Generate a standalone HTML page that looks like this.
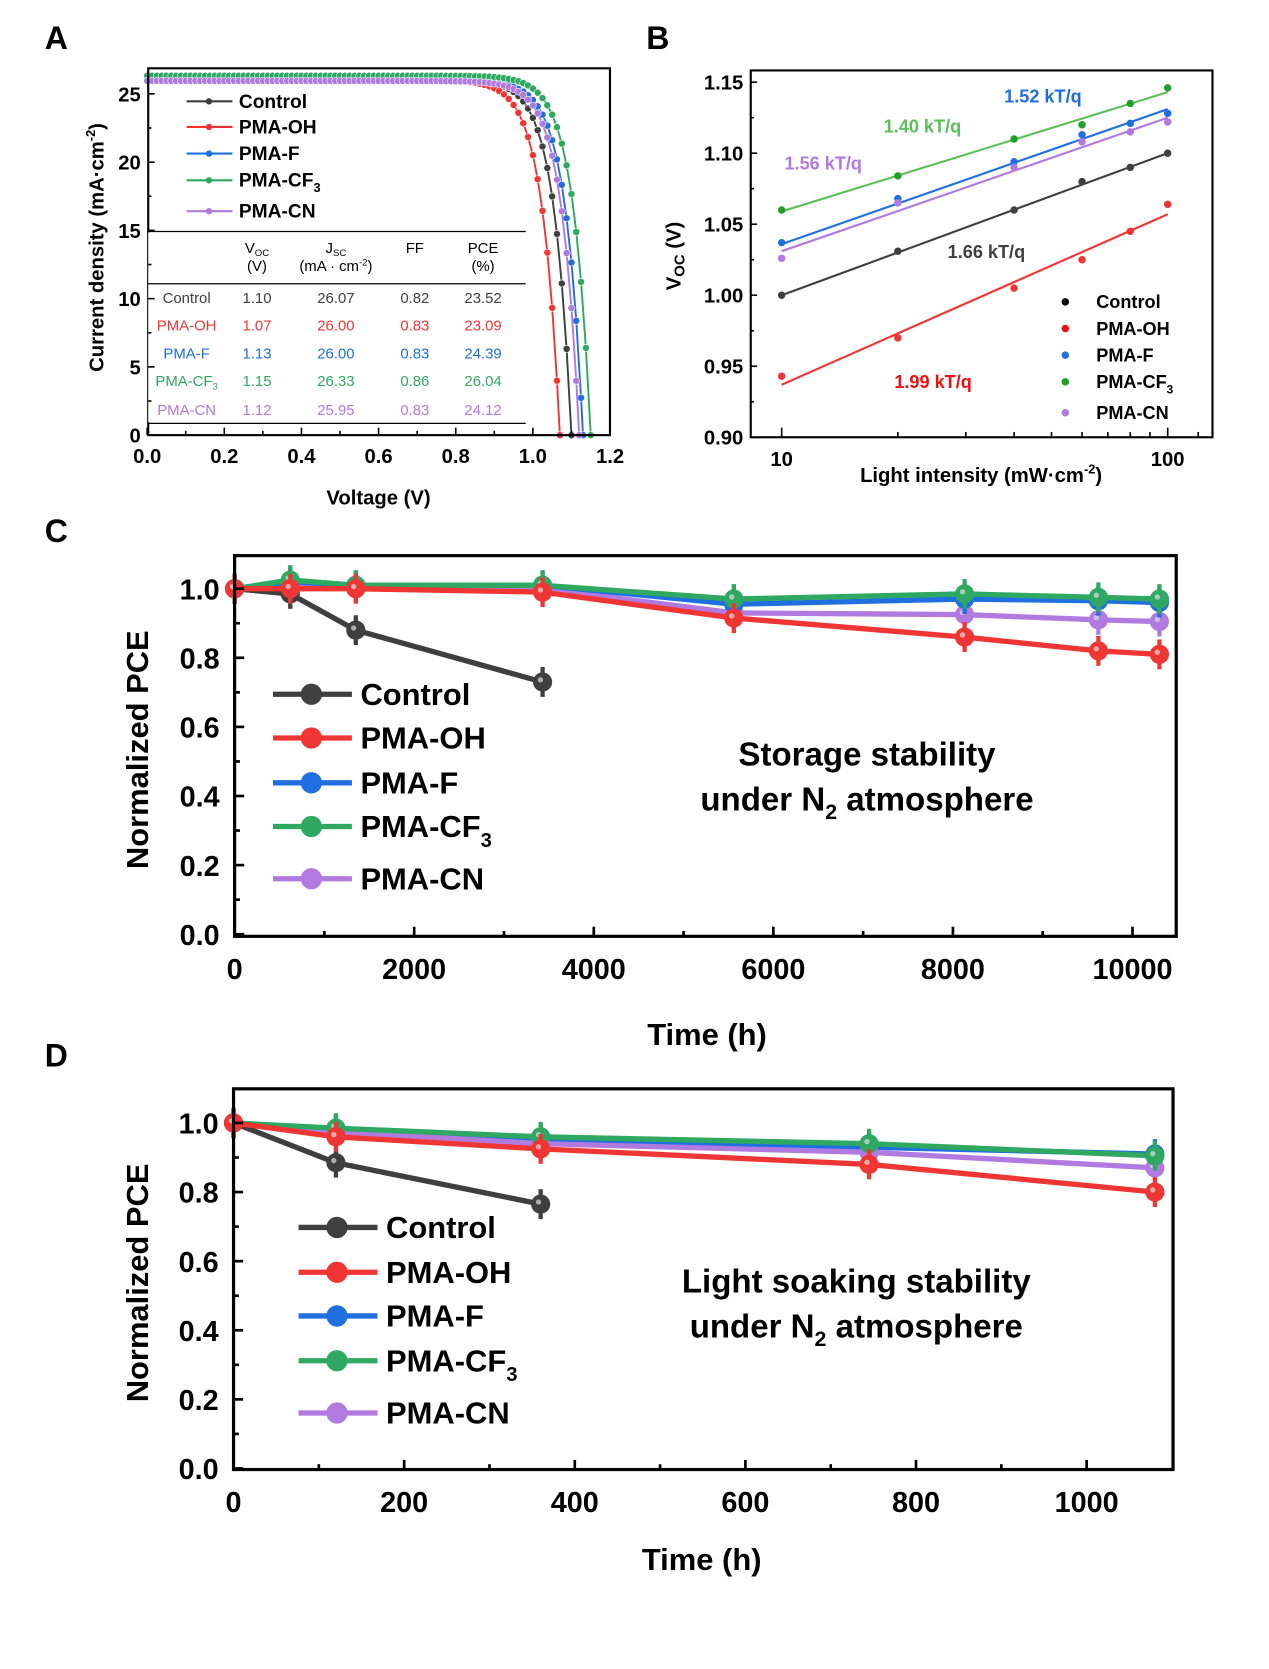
<!DOCTYPE html>
<html><head><meta charset="utf-8"><style>
html,body{margin:0;padding:0;background:#fff;}
svg{display:block;font-family:"Liberation Sans",Arial,sans-serif;font-weight:bold;}
</style></head><body>
<svg id="s" width="1269" height="1669" viewBox="0 0 1190 1565" xmlns="http://www.w3.org/2000/svg">
<rect width="1190" height="1565" fill="#fff"/>
<g font-size="30"><text x="42" y="46">A</text><text x="606" y="46">B</text><text x="42" y="508">C</text><text x="42" y="1000">D</text></g>
<g id="g"></g>
</svg>
<script>
var g=document.getElementById('g'),h='';
function L(x1,y1,x2,y2,c,w){h+='<line x1="'+x1+'" y1="'+y1+'" x2="'+x2+'" y2="'+y2+'" stroke="'+(c||'#000')+'" stroke-width="'+(w||1.5)+'"/>';}
function T(x,y,t,s,a,c,extra){h+='<text x="'+x+'" y="'+y+'" font-size="'+s+'" text-anchor="'+(a||'middle')+'" fill="'+(c||'#000')+'" '+(extra||'')+'>'+t+'</text>';}
function C(x,y,r,c,o){h+='<circle cx="'+x+'" cy="'+y+'" r="'+r+'" fill="'+c+'" '+(o||'')+'/>';}
function P(pts,c,w){h+='<polyline points="'+pts.map(function(p){return p[0].toFixed(1)+','+p[1].toFixed(1)}).join(' ')+'" fill="none" stroke="'+c+'" stroke-width="'+w+'" stroke-linejoin="round"/>';}
var K='#3f3f3f',R='#f03535',B='#1f6fe0',G='#2fa862',Pu='#b07ae0';
/* ---------- Panel A ---------- */
var ax0=138,ay0=408,sx=361.7,sy=12.8;
var A=[[K,1.10,26.07],[R,1.07,26.00],[B,1.13,26.00],[G,1.15,26.33],[Pu,1.12,25.95]];
A.forEach(function(d,i){var pts=[],s=0.045;var n=Math.exp(d[1]/s)-1;
 for(var v=0;v<=d[1]+0.001;v+=0.0125){var j=d[2]*(1-(Math.exp(v/s)-1)/n);if(j<0)j=0;pts.push([ax0+v*sx,ay0-j*sy]);}
 pts.push([ax0+d[1]*sx,ay0]);P(pts,d[0],1.8);pts.forEach(function(p){C(p[0],p[1],3.3,d[0],'stroke="#fff" stroke-width="0.5"');});});
h+='<rect x="139" y="64" width="433" height="344" fill="none" stroke="#000" stroke-width="2"/>';
h+='<rect x="139" y="218" width="353" height="178" fill="#fff"/>';
L(138,217,493,217,'#000',1.2);L(138,266,493,266,'#000',1.2);L(138,397,493,397,'#000',1.2);
var tf='font-weight="normal"';
T(241,237,'V<tspan font-size="9" dy="3">OC</tspan>',14,'middle','#000',tf);T(241,254,'(V)',14,'middle','#000',tf);
T(315,237,'J<tspan font-size="9" dy="3">SC</tspan>',14,'middle','#000',tf);T(315,254,'(mA · cm<tspan font-size="9" dy="-5">-2</tspan><tspan dy="5">)</tspan>',14,'middle','#000',tf);
T(389,237,'FF',14,'middle','#000',tf);T(453,237,'PCE',14,'middle','#000',tf);T(453,254,'(%)',14,'middle','#000',tf);
var rows=[['Control','1.10','26.07','0.82','23.52',K,284],['PMA-OH','1.07','26.00','0.83','23.09',R,310],['PMA-F','1.13','26.00','0.83','24.39',B,336],['PMA-CF<tspan font-size="9" dy="3">3</tspan>','1.15','26.33','0.86','26.04',G,362],['PMA-CN','1.12','25.95','0.83','24.12',Pu,389]];
rows.forEach(function(r){T(175,r[6],r[0],14,'middle',r[5],tf);T(241,r[6],r[1],14,'middle',r[5],tf);T(315,r[6],r[2],14,'middle',r[5],tf);T(389,r[6],r[3],14,'middle',r[5],tf);T(453,r[6],r[4],14,'middle',r[5],tf);});
var leg=[['Control',K,95],['PMA-OH',R,119],['PMA-F',B,144],['PMA-CF<tspan font-size="12" dy="5">3</tspan>',G,169],['PMA-CN',Pu,198]];
leg.forEach(function(l){L(175,l[2],218,l[2],l[1],2);C(196,l[2],3,l[1]);T(224,l[2]+6,l[0],18,'start');});
for(var i=0;i<=12;i++){var x=ax0+i*0.1*sx;L(x,408,x,i%2?404:401);}
for(i=0;i<=6;i++){var x=ax0+i*0.2*sx;T(x,434,(i*0.2).toFixed(1),19);}
for(i=0;i<=10;i++){var y=ay0-i*2.5*sy;L(139,y,i%2?142:145,y);}
for(i=0;i<=5;i++){T(132,ay0-i*5*sy+7,i*5,19,'end');}
T(355,473,'Voltage (V)',19);
T(0,0,'Current density (mA·cm<tspan font-size="12" dy="-8">-2</tspan><tspan dy="8">)</tspan>',19,'middle','#000','transform="translate(97,232) rotate(-90)"');
/* ---------- Panel B ---------- */
function bx(v){return 733+362*Math.log10(v/10);} function by(v){return 410-(v-0.9)*1332;}
var xs=[10,20,40,60,80,100];
var BD=[[K,[1.0,1.031,1.060,1.080,1.090,1.100],1.0,1.1],[R,[0.943,0.970,1.005,1.025,1.045,1.064],0.937,1.057],[B,[1.037,1.068,1.094,1.113,1.121,1.128],1.036,1.131],[G,[1.060,1.084,1.110,1.120,1.135,1.146],1.059,1.143],[Pu,[1.026,1.065,1.090,1.108,1.115,1.122],1.031,1.125]];
var lc={};lc[G]='#5cbf5c';
BD.forEach(function(d){L(bx(10),by(d[2]),bx(100),by(d[3]),lc[d[0]]||d[0],2);d[1].forEach(function(v,i){C(bx(xs[i]),by(v),3.5,d[0]==G?'#22a02a':d[0]);});});
h+='<rect x="704" y="66" width="433" height="344" fill="none" stroke="#000" stroke-width="2"/>';
[10,20,30,40,50,60,70,80,90,100].forEach(function(v){L(bx(v),410,bx(v),(v==10||v==100)?401:405);});
L(bx(120/1),410,bx(120),405);
for(i=0;i<=10;i++){var y=by(0.9+i*0.025);L(704,y,i%2?707:710,y);}
['0.90','0.95','1.00','1.05','1.10','1.15'].forEach(function(t,i){T(697,by(0.9+i*0.05)+7,t,19,'end');});
T(733,437,'10',19);T(1095,437,'100',19);
T(920,452,'Light intensity (mW·cm<tspan font-size="12" dy="-8">-2</tspan><tspan dy="8">)</tspan>',19);
T(0,0,'V<tspan font-size="14" dy="4">OC</tspan><tspan dy="-4"> (V)</tspan>',19,'middle','#000','transform="translate(638,240) rotate(-90)"');
T(978,96,'1.52 kT/q',17,'middle',B);T(865,124,'1.40 kT/q',17,'middle','#5cbf5c');T(772,159,'1.56 kT/q',17,'middle',Pu);T(925,242,'1.66 kT/q',17,'middle',K);T(875,364,'1.99 kT/q',17,'middle','#f01010');
[['Control','#000',283],['PMA-OH','#f01010',308],['PMA-F',B,333],['PMA-CF<tspan font-size="11" dy="5">3</tspan>','#22a02a',358],['PMA-CN',Pu,387]].forEach(function(l){C(999,l[2],3.5,l[1]);T(1028,l[2]+6,l[0],17,'start');});
/* ---------- Stability panels ---------- */
function stab(x0,x1,y0,y1,xz,xs_,yz,ys,times,series,ticks,minor,legX,legRows,annY,annX,line1){
 series.forEach(function(s){var pts=s[1].map(function(v,i){return [xz+times[i]*xs_,yz-v*ys];});P(pts,s[0],5);
  pts.forEach(function(p){h+='<ellipse cx="'+p[0]+'" cy="'+p[1]+'" rx="9" ry="9" fill="'+s[0]+'"/>';L(p[0],p[1]-14,p[0],p[1]+14,s[0],4);C(p[0]-2,p[1]-2,2.5,'#ddd','opacity="0.7"');});});
 h+='<rect x="'+x0+'" y="'+y0+'" width="'+(x1-x0)+'" height="'+(y1-y0)+'" fill="none" stroke="#000" stroke-width="3"/>';
 ticks.forEach(function(t){L(xz+t*xs_,y1,xz+t*xs_,y1-9,'#000',2.5);T(xz+t*xs_,y1+40,t,27);});
 minor.forEach(function(t){L(xz+t*xs_,y1,xz+t*xs_,y1-5,'#000',2.5);});
 for(var i=0;i<=10;i++){var y=yz-i*0.1*ys;L(x0,y,x0+(i%2?5:9),y,'#000',2.5);}
 for(i=0;i<=5;i++){T(x0-14,yz-i*0.2*ys+10,(i*0.2).toFixed(1),27,'end');}
 legRows.forEach(function(l){L(legX,l[2],legX+74,l[2],l[1],5);h+='<circle cx="'+(legX+36)+'" cy="'+l[2]+'" r="10" fill="'+l[1]+'"/>';T(legX+82,l[2]+10,l[0],29,'start');});
 T(annX,annY,line1,31);T(annX,annY+42,'under N<tspan font-size="20" dy="8">2</tspan><tspan dy="-8"> atmosphere</tspan>',31);
}
var lg=function(ys){return [['Control',K,ys[0]],['PMA-OH',R,ys[1]],['PMA-F',B,ys[2]],['PMA-CF<tspan font-size="19" dy="9">3</tspan>',G,ys[3]],['PMA-CN',Pu,ys[4]]];};
stab(220,1103,521,878,220,0.0842,876,324,[0,620,1350,3430,5560,8130,9620,10300],
 [[K,[1,0.985,0.88,0.73]],[Pu,[1,1.01,1.0,1.0,0.93,0.925,0.91,0.905]],[B,[1,1.02,1.01,1.01,0.955,0.97,0.965,0.96]],[G,[1,1.025,1.01,1.01,0.97,0.985,0.975,0.97]],[R,[1,1.0,1.0,0.99,0.915,0.86,0.82,0.81]]],
 [0,2000,4000,6000,8000,10000],[1000,3000,5000,7000,9000],256,lg([651,692,734,775,824]),718,813,'Storage stability');
T(663,980,'Time (h)',29);
T(0,0,'Normalized PCE',29,'middle','#000','transform="translate(139,703) rotate(-90)"');
stab(219,1100,1021,1378,219,0.8,1377,324,[0,120,360,745,1080],
 [[K,[1,0.885,0.765]],[B,[1,0.98,0.95,0.93,0.91]],[Pu,[1,0.975,0.94,0.915,0.87]],[G,[1,0.985,0.96,0.94,0.905]],[R,[1,0.96,0.925,0.88,0.80]]],
 [0,200,400,600,800,1000],[100,300,500,700,900],280,lg([1151,1193,1234,1276,1325]),1212,803,'Light soaking stability');
T(658,1472,'Time (h)',29);
T(0,0,'Normalized PCE',29,'middle','#000','transform="translate(139,1203) rotate(-90)"');
g.innerHTML=h;
</script>
</body></html>
